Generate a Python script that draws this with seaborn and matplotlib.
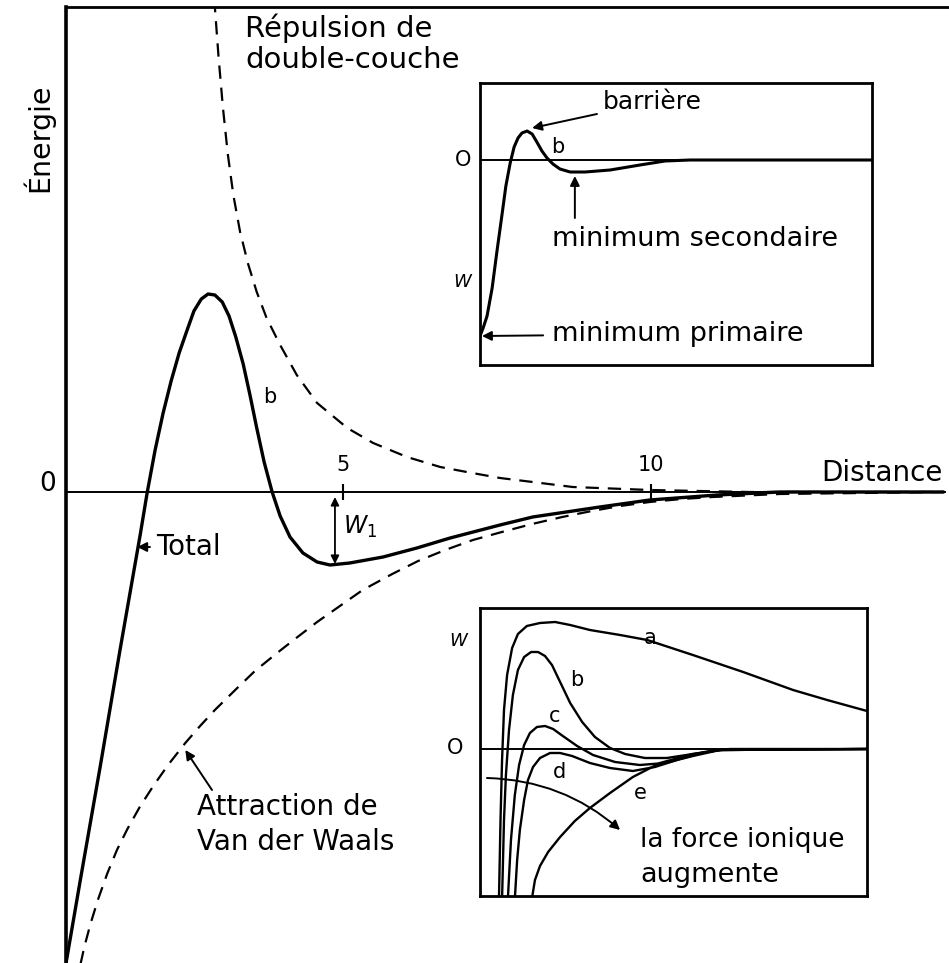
import matplotlib
matplotlib.use("Agg")
import matplotlib.pyplot as plt
import seaborn as sns

# ---------------- data ----------------
# main plot: total interaction energy (solid)
total_x = [0.49, 0.73, 1.06, 1.38, 1.71, 1.82, 1.95, 2.08, 2.21, 2.34, 2.47, 2.58, 2.70, 2.81,
           2.92, 3.04, 3.15, 3.26, 3.38, 3.49, 3.60, 3.72, 3.85, 3.98, 4.14, 4.35, 4.58, 4.79,
           5.11, 5.65, 6.20, 6.74, 7.55, 8.08, 9.17, 9.98, 11.07, 12.09, 14.75]
total_y = [-4.76, -3.90, -2.74, -1.58, -0.42, -0.01, 0.42, 0.79, 1.11, 1.39, 1.62, 1.81, 1.93, 1.98,
           1.97, 1.90, 1.76, 1.55, 1.28, 0.97, 0.64, 0.30, 0.00, -0.24, -0.45, -0.61, -0.70, -0.73,
           -0.71, -0.65, -0.56, -0.46, -0.33, -0.25, -0.15, -0.08, -0.03, 0.00, 0.00]

# double-layer repulsion (dashed)
rep_x = [2.91, 2.92, 2.98, 3.05, 3.13, 3.22, 3.33, 3.46, 3.60, 3.76, 3.98, 4.25, 4.58,
         5.07, 5.49, 6.04, 6.58, 7.01, 7.55, 8.08, 8.73, 9.98, 11.6, 14.75]
rep_y = [4.95, 4.85, 4.35, 3.85, 3.38, 2.97, 2.60, 2.28, 2.00, 1.74, 1.47, 1.17, 0.89,
         0.64, 0.49, 0.35, 0.25, 0.20, 0.14, 0.10, 0.05, 0.02, 0.00, 0.00]

# van der Waals attraction (dashed)
vdw_x = [0.71, 0.80, 0.90, 1.02, 1.17, 1.33, 1.50, 1.70, 1.92, 2.16, 2.44, 2.68, 2.92,
         3.25, 3.57, 3.93, 4.22, 4.58, 5.32, 5.80, 6.22, 6.66, 7.11, 7.58, 8.07, 8.56,
         9.04, 9.50, 9.98, 10.50, 11.00, 12.09, 14.75]
vdw_y = [-4.80, -4.55, -4.32, -4.08, -3.82, -3.58, -3.37, -3.15, -2.94, -2.73, -2.51, -2.34, -2.18,
         -1.98, -1.79, -1.61, -1.47, -1.30, -0.98, -0.82, -0.69, -0.58, -0.48, -0.40, -0.32, -0.25,
         -0.19, -0.14, -0.10, -0.07, -0.05, -0.02, 0.00]

main_ticks = [5, 10]
main_tick_labels = ["5", "10"]

# top inset: curve b
ins1_x = [0.00, 0.08, 0.18, 0.31, 0.43, 0.56, 0.66, 0.77, 0.87, 0.97, 1.07, 1.20, 1.33, 1.45,
          1.58, 1.71, 1.86, 2.04, 2.30, 2.68, 3.32, 4.08, 4.72, 5.36, 10.0]
ins1_y = [-1.76, -1.68, -1.56, -1.28, -0.92, -0.55, -0.26, -0.03, 0.13, 0.22, 0.27, 0.29, 0.26, 0.18,
          0.09, 0.02, -0.04, -0.09, -0.12, -0.12, -0.10, -0.05, -0.01, 0.00, 0.00]

# bottom inset: curves a-e (increasing ionic strength)
a_x = [0.49, 0.53, 0.57, 0.62, 0.70, 0.83, 0.98, 1.21, 1.55, 1.94, 2.33, 2.84, 3.62, 4.32,
       5.50, 6.80, 8.09, 8.97, 10.0]
a_y = [-1.50, -0.71, -0.11, 0.39, 0.74, 1.01, 1.15, 1.23, 1.26, 1.27, 1.24, 1.19, 1.14, 1.09,
       0.94, 0.77, 0.59, 0.49, 0.38]
b_x = [0.57, 0.62, 0.67, 0.75, 0.85, 0.98, 1.14, 1.32, 1.50, 1.68, 1.86, 2.07, 2.33, 2.64,
       2.97, 3.36, 3.75, 4.26, 4.83, 5.50, 6.20, 10.0]
b_y = [-1.50, -0.71, -0.26, 0.19, 0.54, 0.79, 0.92, 0.97, 0.97, 0.93, 0.84, 0.67, 0.46, 0.27,
       0.12, 0.01, -0.05, -0.09, -0.09, -0.05, -0.01, 0.00]
c_x = [0.72, 0.80, 0.90, 1.01, 1.14, 1.29, 1.47, 1.68, 1.89, 2.14, 2.51, 2.92, 3.49, 4.13,
       4.78, 5.50, 6.20, 10.0]
c_y = [-1.50, -0.91, -0.46, -0.16, 0.04, 0.16, 0.22, 0.23, 0.20, 0.13, 0.03, -0.06, -0.13, -0.16,
       -0.14, -0.07, -0.01, 0.00]
d_x = [0.90, 0.96, 1.03, 1.14, 1.24, 1.37, 1.55, 1.81, 2.07, 2.38, 2.84, 3.36, 3.95, 4.52,
       5.17, 5.81, 6.46, 10.0]
d_y = [-1.50, -1.11, -0.81, -0.51, -0.31, -0.18, -0.09, -0.04, -0.04, -0.07, -0.14, -0.19, -0.22,
       -0.18, -0.10, -0.03, 0.00, 0.00]
e_x = [1.34, 1.42, 1.55, 1.76, 2.07, 2.45, 2.84, 3.36, 3.95, 4.65, 5.50, 6.20, 10.0]
e_y = [-1.50, -1.31, -1.17, -1.03, -0.88, -0.72, -0.59, -0.44, -0.28, -0.14, -0.05, -0.01, 0.00]
curve_labels = ["a", "b", "c", "d", "e"]

# ---------------- figure ----------------
sns.set_theme(style="white")
plt.rcParams["font.family"] = ["DejaVu Sans"]
plt.rcParams["mathtext.fontset"] = "dejavusans"
plt.rcParams["text.color"] = "black"

W, H = 949, 963
fig = plt.figure(figsize=(W / 100, H / 100), dpi=100)
fig.patch.set_facecolor("white")


def P(x, y):
    return (x / W, 1 - y / H)


def axes_px(l, t, r, b):
    return fig.add_axes([l / W, 1 - b / H, (r - l) / W, (b - t) / H])


K = "black"
DASH = (0, (6, 4))
LKW = dict(sort=False, estimator=None, color=K, solid_joinstyle="round",
           solid_capstyle="round")

# ---- main axes ----
ax = axes_px(66, 7, 949, 963)
ax.set_facecolor("none")
sns.lineplot(x=total_x, y=total_y, ax=ax, lw=2.4, **LKW)
sns.lineplot(x=rep_x, y=rep_y, ax=ax, lw=1.6, linestyle=DASH, **LKW)
sns.lineplot(x=vdw_x, y=vdw_y, ax=ax, lw=1.6, linestyle=DASH, **LKW)
ax.set_xlim(0.503, 14.84)
ax.set_ylim(-4.71, 4.85)
ax.spines["right"].set_visible(False)
ax.spines["left"].set_linewidth(2.6)
ax.spines["top"].set_linewidth(2.0)
ax.spines["bottom"].set_position(("data", 0))
ax.spines["bottom"].set_bounds(0.503, 14.78)
ax.spines["bottom"].set_linewidth(1.4)
for s in ax.spines.values():
    s.set_color(K)
ax.set_xticks(main_ticks)
ax.tick_params(axis="x", bottom=True, direction="inout", length=12, width=1.5,
               color=K, labelbottom=False)
ax.set_yticks([])
ax.set_xlabel("")
ax.set_ylabel("")
for v, lab in zip(main_ticks, main_tick_labels):
    ax.text(v, 0.27, lab, ha="center", va="center", fontsize=15)

fig.text(*P(48, 484), "0", ha="center", va="center", fontsize=19)
fig.text(*P(943, 473), "Distance", ha="right", va="center", fontsize=20)
fig.text(*P(38, 138), "Énergie", rotation=90, ha="center", va="center", fontsize=20.5)
fig.text(*P(245, 28), "Répulsion de", ha="left", va="center", fontsize=21)
fig.text(*P(245, 60), "double-couche", ha="left", va="center", fontsize=21)
fig.text(*P(270, 397), "b", ha="center", va="center", fontsize=15)
fig.text(*P(360, 527), r"$W_1$", ha="center", va="center", fontsize=17)
fig.text(*P(197, 807), "Attraction de", ha="left", va="center", fontsize=20)
fig.text(*P(197, 842), "Van der Waals", ha="left", va="center", fontsize=20)

arrow = dict(arrowstyle="-|>", color=K, lw=1.4, mutation_scale=14, shrinkA=0, shrinkB=0)
# Total
ax.annotate("Total", xy=(1.66, -0.55), xytext=P(156, 547), textcoords="figure fraction",
            ha="left", va="center", fontsize=20, arrowprops=dict(arrow, shrinkA=2))
# van der Waals pointer
ax.annotate("", xy=(2.44, -2.58), xytext=P(212, 790), textcoords="figure fraction",
            arrowprops=arrow)
# W1 double arrow
ax.annotate("", xy=(4.87, -0.05), xytext=(4.87, -0.72),
            arrowprops=dict(arrowstyle="<|-|>", color=K, lw=1.3, mutation_scale=12,
                            shrinkA=0, shrinkB=0))

# ---- inset 1 (top) ----
ax1 = axes_px(480, 83, 872, 365)
sns.lineplot(x=ins1_x, y=ins1_y, ax=ax1, lw=2.2, **LKW)
ax1.axhline(0, color=K, lw=1.4)
ax1.set_xlim(0, 10)
ax1.set_ylim(-2.05, 0.77)
ax1.set_xticks([])
ax1.set_yticks([])
ax1.set_xlabel("")
ax1.set_ylabel("")
for s in ax1.spines.values():
    s.set_visible(True)
    s.set_color(K)
    s.set_linewidth(2.0)
fig.text(*P(463, 160), "O", ha="center", va="center", fontsize=15)
fig.text(*P(462, 282), "W", ha="center", va="center", fontsize=13, style="italic")
fig.text(*P(558, 147), "b", ha="center", va="center", fontsize=15)
ax1.annotate("barrière", xy=(1.33, 0.32), xytext=P(603, 102), textcoords="figure fraction",
             ha="left", va="center", fontsize=18,
             arrowprops=dict(arrow, shrinkA=2))
ax1.annotate("", xy=(2.42, -0.16), xytext=(2.42, -0.58), arrowprops=arrow)
fig.text(*P(552, 239), "minimum secondaire", ha="left", va="center", fontsize=19.5)
ax1.annotate("minimum primaire", xy=(0.05, -1.76), xytext=P(552, 334),
             textcoords="figure fraction", ha="left", va="center", fontsize=19.5,
             arrowprops=dict(arrow, shrinkA=4))

# ---- inset 2 (bottom) ----
ax2 = axes_px(480, 608, 867, 896)
for cx, cy in [(a_x, a_y), (b_x, b_y), (c_x, c_y), (d_x, d_y), (e_x, e_y)]:
    sns.lineplot(x=cx, y=cy, ax=ax2, lw=1.7, **LKW)
ax2.axhline(0, color=K, lw=1.4)
ax2.set_xlim(0, 10)
ax2.set_ylim(-1.47, 1.41)
ax2.set_xticks([])
ax2.set_yticks([])
ax2.set_xlabel("")
ax2.set_ylabel("")
for s in ax2.spines.values():
    s.set_visible(True)
    s.set_color(K)
    s.set_linewidth(2.0)
fig.text(*P(458, 641), "W", ha="center", va="center", fontsize=13, style="italic")
fig.text(*P(455, 748), "O", ha="center", va="center", fontsize=15)
for lab, (px, py) in zip(curve_labels, [(650, 638), (577, 680), (555, 716), (560, 772), (640, 793)]):
    fig.text(*P(px, py), lab, ha="center", va="center", fontsize=15)
ax2.annotate("", xy=(3.62, -0.81), xytext=(0.18, -0.29),
             arrowprops=dict(arrow, connectionstyle="arc3,rad=-0.18"))
fig.text(*P(640, 840), "la force ionique", ha="left", va="center", fontsize=19)
fig.text(*P(640, 875), "augmente", ha="left", va="center", fontsize=19.5)

fig.savefig("out.png", dpi=100, facecolor="white")
